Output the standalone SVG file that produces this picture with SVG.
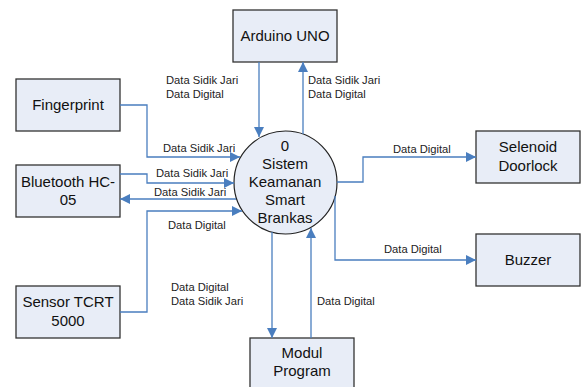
<svg xmlns="http://www.w3.org/2000/svg" width="587" height="387" viewBox="0 0 587 387">
  <defs>
    <marker id="arrow" viewBox="0 0 10 10" refX="10" refY="5" markerWidth="10" markerHeight="10" markerUnits="userSpaceOnUse" orient="auto">
      <path d="M0,0 L10,5 L0,10 Z" fill="#4a7ebf"/>
    </marker>
    <style>
      .box { fill: #e8edf7; stroke: #333; stroke-width: 1.3; }
      .proc { fill: #e8edf7; stroke: #222; stroke-width: 1.2; }
      .node-text { font-family: "Liberation Sans", Arial, sans-serif; font-size: 15px; fill: #111; text-anchor: middle; }
      .flow { fill: none; stroke: #4a7ebf; stroke-width: 1.3; marker-end: url(#arrow); }
      .lbl { font-family: "Liberation Sans", Arial, sans-serif; font-size: 11.2px; fill: #222; }
    </style>
  </defs>

  <!-- external entities -->
  <g id="arduino">
    <rect class="box" x="233" y="10" width="104" height="52"/>
    <text class="node-text" x="285" y="41">Arduino UNO</text>
  </g>
  <g id="fingerprint">
    <rect class="box" x="16" y="79" width="104" height="52"/>
    <text class="node-text" x="68" y="110">Fingerprint</text>
  </g>
  <g id="bluetooth">
    <rect class="box" x="16" y="165" width="104" height="52"/>
    <text class="node-text" x="68" y="187">Bluetooth HC-</text>
    <text class="node-text" x="68" y="205">05</text>
  </g>
  <g id="sensor">
    <rect class="box" x="16" y="286" width="104" height="52"/>
    <text class="node-text" x="68" y="307">Sensor TCRT</text>
    <text class="node-text" x="68" y="326">5000</text>
  </g>
  <g id="modul">
    <rect class="box" x="250" y="338" width="104" height="60"/>
    <text class="node-text" x="302" y="358">Modul</text>
    <text class="node-text" x="302" y="376">Program</text>
  </g>
  <g id="selenoid">
    <rect class="box" x="476" y="131" width="104" height="52"/>
    <text class="node-text" x="528" y="152">Selenoid</text>
    <text class="node-text" x="528" y="171">Doorlock</text>
  </g>
  <g id="buzzer">
    <rect class="box" x="476" y="234" width="104" height="52"/>
    <text class="node-text" x="528" y="265">Buzzer</text>
  </g>

  <!-- process -->
  <g id="sistem">
    <circle class="proc" cx="285.5" cy="182.5" r="51.5"/>
    <text class="node-text" x="285" y="151">0</text>
    <text class="node-text" x="285" y="169">Sistem</text>
    <text class="node-text" x="285" y="187">Keamanan</text>
    <text class="node-text" x="285" y="205">Smart</text>
    <text class="node-text" x="285" y="223">Brankas</text>
  </g>

  <!-- data flows -->
  <g id="connectors">
    <path class="flow" d="M259,62 V137"/>
    <path class="flow" d="M303,134 V62"/>
    <path class="flow" d="M120,105 H147 V157 H240"/>
    <path class="flow" d="M120,174 H147 V183 H234"/>
    <path class="flow" d="M236,199 H120"/>
    <path class="flow" d="M120,312 H147 V211 H242"/>
    <path class="flow" d="M272,232 V338"/>
    <path class="flow" d="M311,338 V228"/>
    <path class="flow" d="M337,182 H363 V157 H476"/>
    <path class="flow" d="M335,196 V260 H476"/>
  </g>

  <!-- flow labels -->
  <g id="labels">
    <text class="lbl" x="166" y="84">Data Sidik Jari</text>
    <text class="lbl" x="166" y="98">Data Digital</text>
    <text class="lbl" x="308" y="84">Data Sidik Jari</text>
    <text class="lbl" x="308" y="98">Data Digital</text>
    <text class="lbl" x="163" y="152">Data Sidik Jari</text>
    <text class="lbl" x="156" y="177">Data Sidik Jari</text>
    <text class="lbl" x="154" y="196">Data Sidik Jari</text>
    <text class="lbl" x="168" y="229">Data Digital</text>
    <text class="lbl" x="171" y="291">Data Digital</text>
    <text class="lbl" x="171" y="305">Data Sidik Jari</text>
    <text class="lbl" x="317" y="305">Data Digital</text>
    <text class="lbl" x="393" y="153">Data Digital</text>
    <text class="lbl" x="384" y="253">Data Digital</text>
  </g>
</svg>
